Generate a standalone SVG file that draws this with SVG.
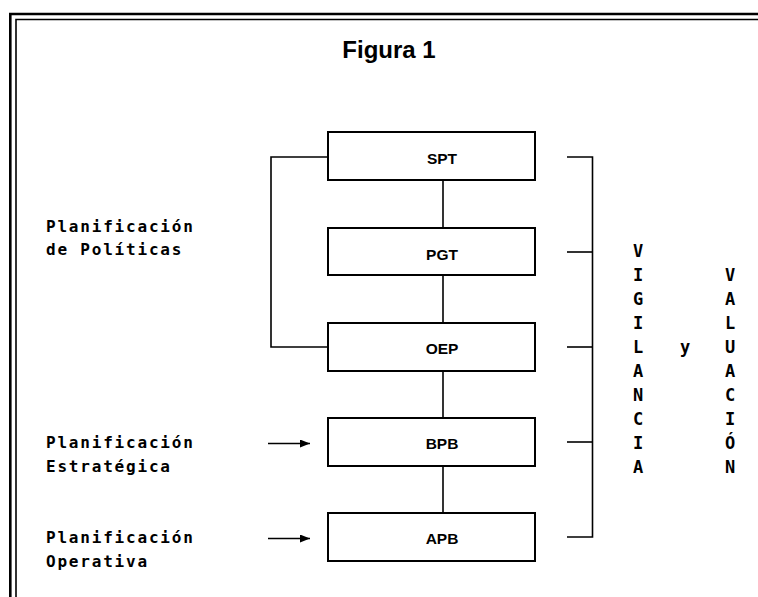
<svg xmlns="http://www.w3.org/2000/svg" width="758" height="597" viewBox="0 0 758 597">
<defs>
<style>
.frame{fill:none;stroke:#000}
.box{fill:#fff;stroke:#000;stroke-width:2}
.ln{fill:none;stroke:#000;stroke-width:1.6}
.lbl{font-family:"Liberation Sans",Arial,sans-serif;font-weight:bold;font-size:15.5px;text-anchor:middle;fill:#000}
.side{font-family:"DejaVu Sans Mono","Liberation Mono",monospace;font-weight:bold;font-size:16px;letter-spacing:1.8px;fill:#000}
.vert{font-family:"DejaVu Sans Mono","Liberation Mono",monospace;font-weight:bold;font-size:17px;text-anchor:middle;fill:#000}
.title{font-family:"Liberation Sans",Arial,sans-serif;font-weight:bold;font-size:24px;text-anchor:middle;fill:#000}
</style>
<marker id="ah" viewBox="0 0 10 8" refX="10" refY="4" markerWidth="10" markerHeight="8" markerUnits="userSpaceOnUse" orient="auto">
<path d="M0,0 L10,4 L0,8 Z" fill="#000"/>
</marker>
</defs>
<rect width="758" height="597" fill="#fff"/>
<g id="frame">
<path class="frame" stroke-width="2.6" d="M10.3,597 V14 H758"/>
<path class="frame" stroke-width="1.6" d="M16,597 V19.5 H758"/>
</g>
<text id="title" class="title" x="389" y="58">Figura 1</text>
<g id="connectors">
<line class="ln" x1="443" y1="180" x2="443" y2="228"/>
<line class="ln" x1="443" y1="275" x2="443" y2="323"/>
<line class="ln" x1="443" y1="371" x2="443" y2="418"/>
<line class="ln" x1="443" y1="466" x2="443" y2="513"/>
<path class="ln" d="M328,157 H271 V347 H328"/>
<path class="ln" d="M567,157 H592.5 V537 H567"/>
<line class="ln" x1="567" y1="252" x2="592.5" y2="252"/>
<line class="ln" x1="567" y1="347" x2="592.5" y2="347"/>
<line class="ln" x1="567" y1="442" x2="592.5" y2="442"/>
<line class="ln" x1="268" y1="443.5" x2="310" y2="443.5" marker-end="url(#ah)"/>
<line class="ln" x1="268" y1="538.5" x2="310" y2="538.5" marker-end="url(#ah)"/>
</g>
<g id="SPT"><rect class="box" x="328" y="132" width="207" height="48"/><text class="lbl" x="442" y="164">SPT</text></g>
<g id="PGT"><rect class="box" x="328" y="228" width="207" height="47"/><text class="lbl" x="442" y="260">PGT</text></g>
<g id="OEP"><rect class="box" x="328" y="323" width="207" height="48"/><text class="lbl" x="442" y="354">OEP</text></g>
<g id="BPB"><rect class="box" x="328" y="418" width="207" height="48"/><text class="lbl" x="442" y="449">BPB</text></g>
<g id="APB"><rect class="box" x="328" y="513" width="207" height="48"/><text class="lbl" x="442" y="544">APB</text></g>
<g id="label-politicas">
<text class="side" x="46" y="232">Planificación</text>
<text class="side" x="46" y="255">de Políticas</text>
</g>
<g id="label-estrategica">
<text class="side" x="46" y="448">Planificación</text>
<text class="side" x="46" y="471.5">Estratégica</text>
</g>
<g id="label-operativa">
<text class="side" x="46" y="543">Planificación</text>
<text class="side" x="46" y="566.5">Operativa</text>
</g>
<g id="vigilancia">
<text class="vert" x="638" y="257">V</text>
<text class="vert" x="638" y="281">I</text>
<text class="vert" x="638" y="305">G</text>
<text class="vert" x="638" y="329">I</text>
<text class="vert" x="638" y="353">L</text>
<text class="vert" x="638" y="377">A</text>
<text class="vert" x="638" y="401">N</text>
<text class="vert" x="638" y="425">C</text>
<text class="vert" x="638" y="449">I</text>
<text class="vert" x="638" y="473">A</text>
</g>
<text id="y" class="vert" x="685" y="353">y</text>
<g id="valuacion">
<text class="vert" x="730" y="281">V</text>
<text class="vert" x="730" y="305">A</text>
<text class="vert" x="730" y="329">L</text>
<text class="vert" x="730" y="353">U</text>
<text class="vert" x="730" y="377">A</text>
<text class="vert" x="730" y="401">C</text>
<text class="vert" x="730" y="425">I</text>
<text class="vert" x="730" y="449">Ó</text>
<text class="vert" x="730" y="473">N</text>
</g>
</svg>
